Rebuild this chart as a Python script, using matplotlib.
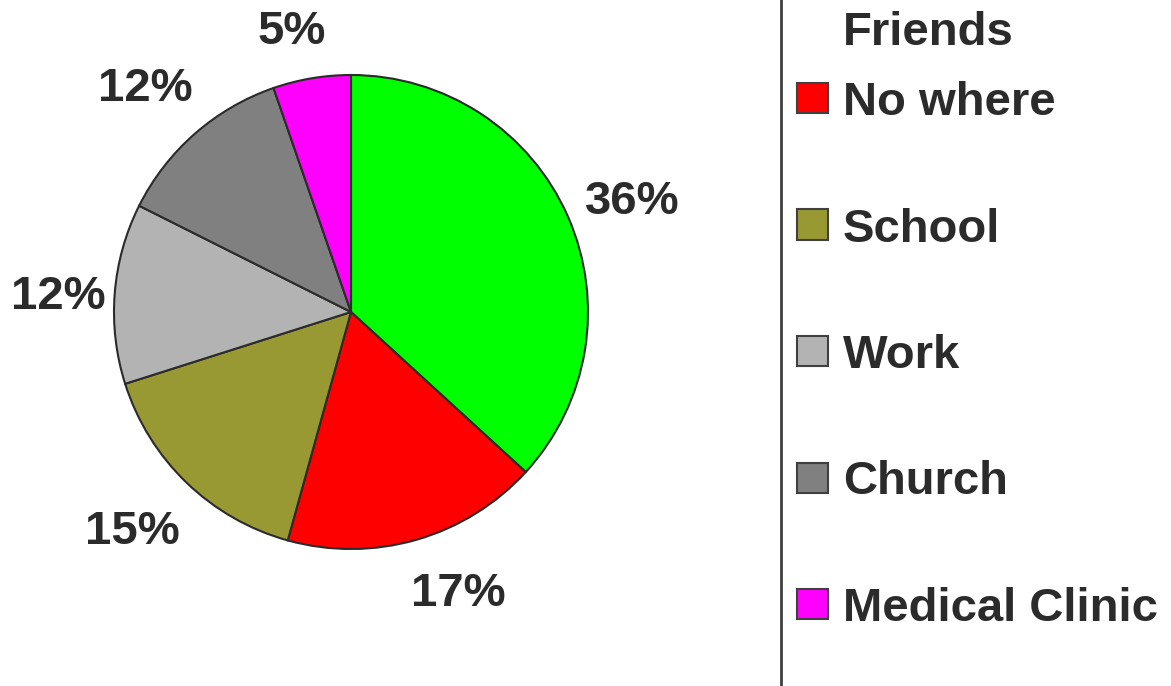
#!/usr/bin/env python3
"""
Pie chart: where people met their friends.
"""

import matplotlib.pyplot as plt
from matplotlib.patches import Rectangle
import numpy as np

# Data
title = 'Friends'
categories = ['Friends', 'No where', 'School', 'Work', 'Church', 'Medical Clinic']
shares = [36.8, 17.5, 15.8, 12.3, 12.3, 5.3]
pct_labels = ['36%', '17%', '15%', '12%', '12%', '5%']

colors = ['#00ff00', '#ff0000', '#999933', '#b3b3b3', '#808080', '#ff00ff']
text_color = '#2b2b2b'

plt.rcParams['font.family'] = ['Liberation Sans', 'DejaVu Sans']

W, H = 1171, 686
fig = plt.figure(figsize=(W / 100, H / 100), dpi=100)

# Pie axes: center (351, 312) px, radius 237 px
cx, cy, r = 351, 312, 237
ax = fig.add_axes([(cx - r) / W, (H - cy - r) / H, 2 * r / W, 2 * r / H])
wedges, _ = ax.pie(shares, colors=colors, startangle=90, counterclock=False,
                   wedgeprops=dict(edgecolor=text_color, linewidth=1.5))
ax.set_xlim(-1, 1)
ax.set_ylim(-1, 1)
ax.set_aspect('equal')
ax.axis('off')

# Percentage labels around the pie (baseline placed on the polar point)
label_dist = [1.258, 1.321, 1.345, 1.236, 1.244, 1.158]
label_nudge = [-4.6, 4.1, 0.6, 3.9, 3.1, 2.9]  # degrees off wedge middle
for w, txt, d, nudge in zip(wedges, pct_labels, label_dist, label_nudge):
    ang = np.deg2rad((w.theta1 + w.theta2) / 2 + nudge)
    ax.text(d * np.cos(ang), d * np.sin(ang), txt, ha='center', va='baseline',
            fontsize=34, fontweight='bold', color=text_color)

# Separator line
fig.add_artist(plt.Line2D([781 / W, 781 / W], [0, 1], color='#404040', linewidth=2))

# Legend (first category has no swatch; shown as the title)
fig.text(843 / W, 1 - 45 / H, title, fontsize=34, fontweight='bold',
         color=text_color, va='baseline')
for i, (name, col) in enumerate(zip(categories[1:], colors[1:])):
    yc = 98 + i * 126.5
    fig.add_artist(Rectangle((797 / W, 1 - (yc + 15) / H), 31 / W, 30 / H,
                             facecolor=col, edgecolor='#404040', linewidth=1.5))
    fig.text(843 / W, 1 - (yc + 17) / H, name, fontsize=34, fontweight='bold',
             color=text_color, va='baseline')

fig.savefig('out.png', dpi=100, facecolor='white')
